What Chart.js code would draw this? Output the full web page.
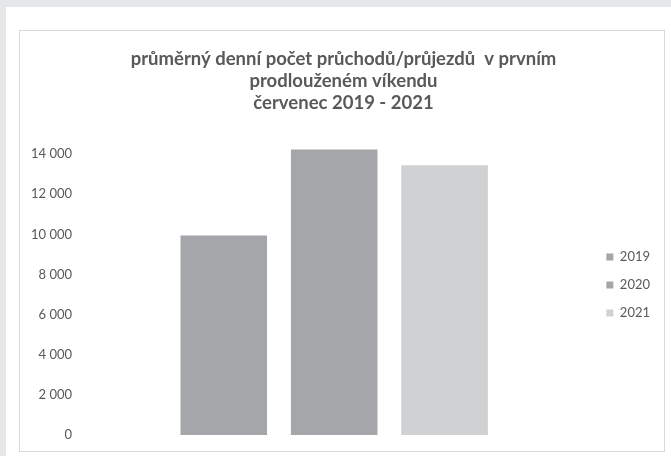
<!DOCTYPE html>
<html>
<head>
<meta charset="utf-8">
<script src="https://cdn.jsdelivr.net/npm/chart.js@4/dist/chart.umd.min.js"></script>
<style>
  html, body { margin: 0; padding: 0; background: #e6e7e9; width: 671px; height: 456px; overflow: hidden; }
  #panel { position: absolute; left: 6px; top: 7px; width: 665px; height: 449px; background: #ffffff; }
  #box { position: absolute; left: 19px; top: 30px; width: 644px; height: 420px; border: 1px solid #d9d9d9; background: #fff; }
  canvas { display: block; }
</style>
</head>
<body>
<div id="panel"></div>
<div id="box"><canvas id="c" width="644" height="420"></canvas></div>
<script>
const titleLines = ["průměrný denní počet průchodů/průjezdů  v prvním", "prodlouženém víkendu", "červenec 2019 - 2021"];
const categories = [""];
const seriesNames = ["2019", "2020", "2021"];
const values2019 = [9950];
const values2020 = [14230];
const values2021 = [13450];
const seriesColors = ["#a5a6a9", "#a5a6a9", "#d0d1d3"];
const yTickValues = [0, 2000, 4000, 6000, 8000, 10000, 12000, 14000];

const fontFamily = "Lato, 'Open Sans', sans-serif";
const textColor = "#595959";

function fmt(v) {
  return String(v).replace(/\B(?=(\d{3})+(?!\d))/g, " ");
}

new Chart(document.getElementById("c"), {
  type: "bar",
  data: {
    labels: categories,
    datasets: [
      { label: seriesNames[0], data: values2019, backgroundColor: seriesColors[0] },
      { label: seriesNames[1], data: values2020, backgroundColor: seriesColors[1] },
      { label: seriesNames[2], data: values2021, backgroundColor: seriesColors[2] }
    ]
  },
  options: {
    responsive: false,
    animation: false,
    layout: { padding: { left: 7, right: 4, top: 0, bottom: 16 } },
    datasets: { bar: { barPercentage: 0.784, categoryPercentage: 0.662 } },
    plugins: {
      tooltip: { enabled: false },
      title: {
        display: true,
        text: titleLines,
        color: textColor,
        font: { family: fontFamily, size: 18.5, weight: "bold", lineHeight: 1.19 },
        padding: { top: 17, bottom: 10 }
      },
      legend: {
        position: "right",
        title: { display: true, text: "", font: { size: 1, lineHeight: 1 }, padding: { top: 103, bottom: 0 } },
        labels: {
          color: textColor,
          font: { family: fontFamily, size: 13 },
          boxWidth: 7,
          boxHeight: 7,
          padding: 15
        }
      }
    },
    scales: {
      x: { display: false },
      y: {
        min: 0,
        max: 15500,
        grid: { display: false },
        border: { display: false },
        afterBuildTicks: (axis) => { axis.ticks = yTickValues.map(v => ({ value: v })); },
        ticks: {
          color: textColor,
          font: { family: fontFamily, size: 13 },
          padding: 4,
          callback: (v) => fmt(v)
        }
      },
      y2: {
        position: "right",
        display: true,
        grid: { display: false },
        border: { display: false },
        ticks: { display: false },
        afterFit: (axis) => { axis.width = 7; }
      }
    }
  }
});
</script>
</body>
</html>
